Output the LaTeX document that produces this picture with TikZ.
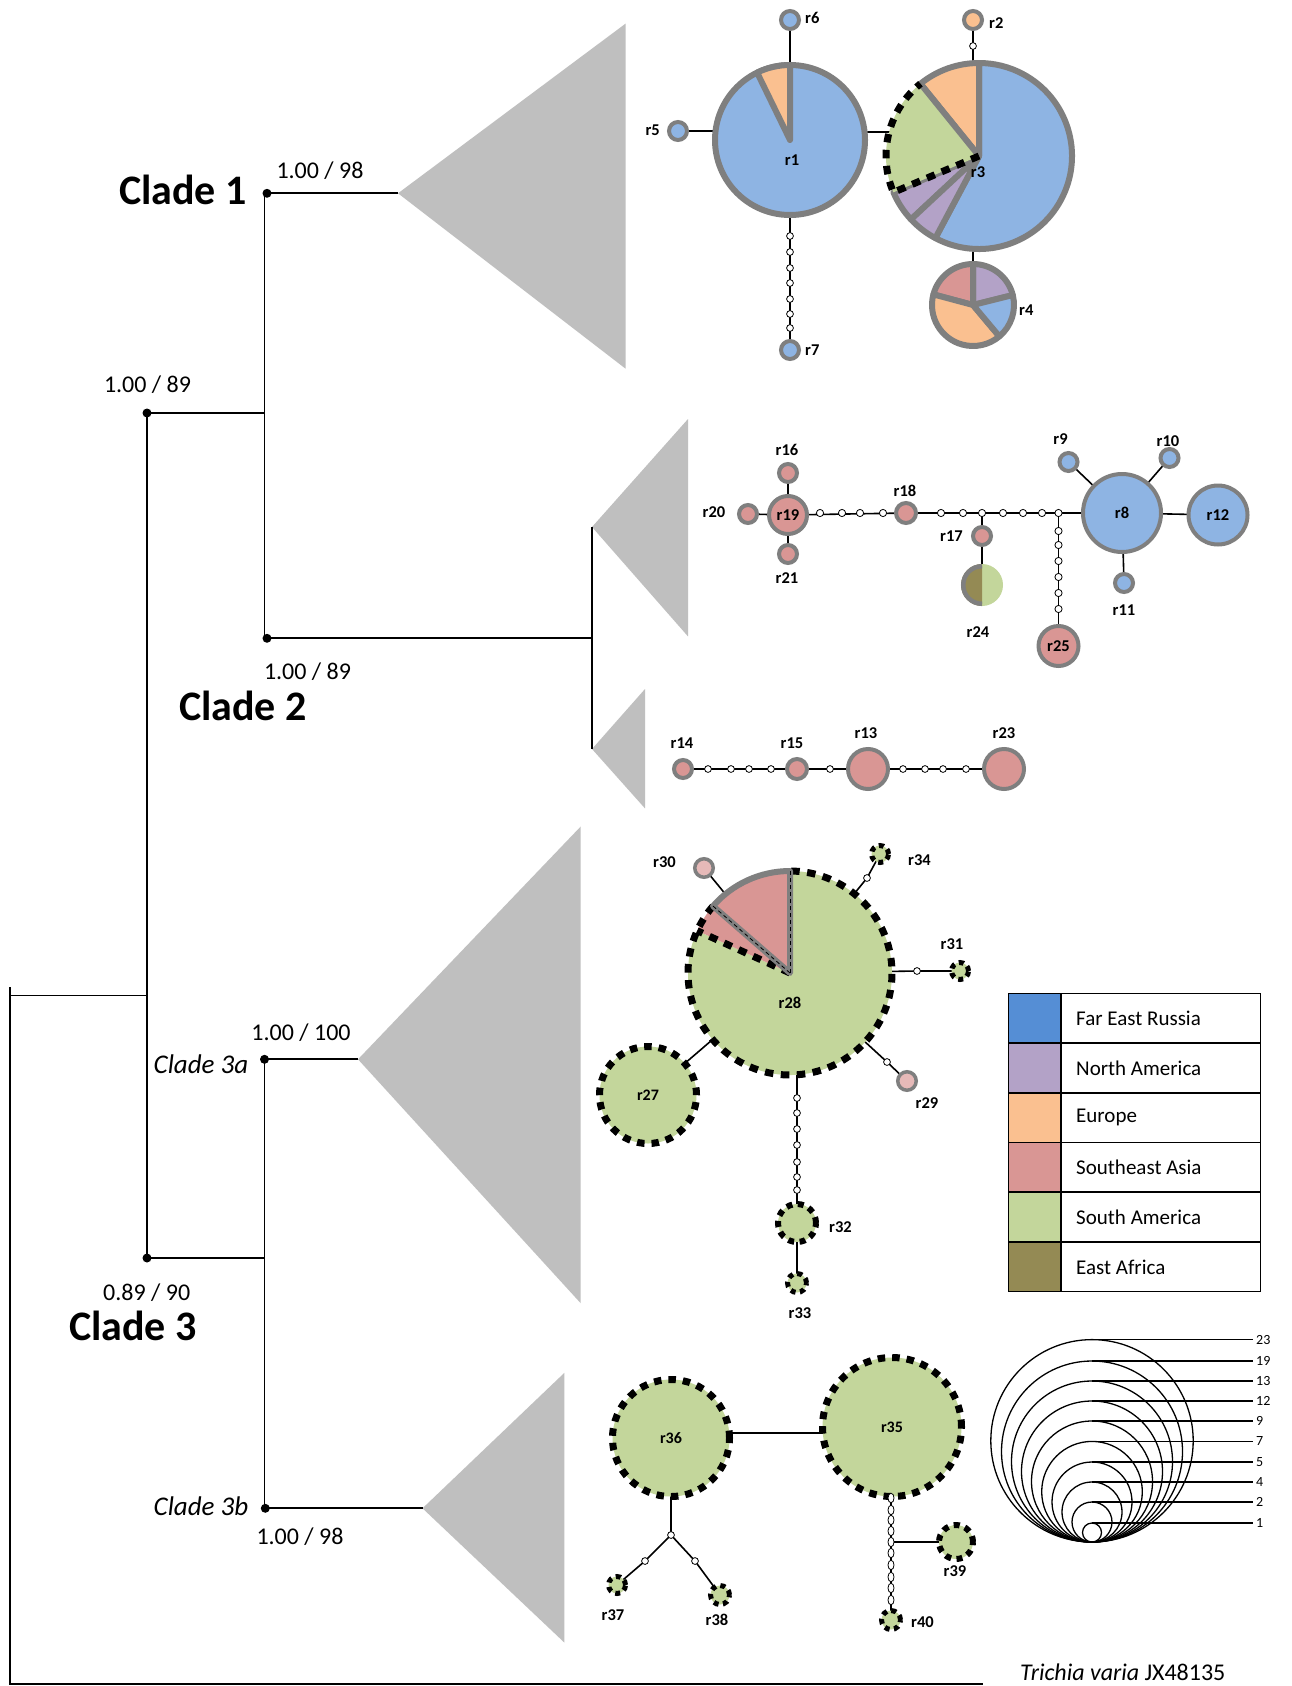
\documentclass[tikz,border=0pt]{standalone}
\usepackage{fontspec}
\setmainfont{Carlito}
\usetikzlibrary{shapes.geometric}
\pgfdeclarelayer{bgw}
\pgfdeclarelayer{back}
\pgfsetlayers{bgw,back,main}
\definecolor{cBlue}{HTML}{8EB4E3}
\definecolor{cLBlue}{HTML}{558ED5}
\definecolor{cPurple}{HTML}{B3A2C7}
\definecolor{cOrange}{HTML}{FAC090}
\definecolor{cPink}{HTML}{D99694}
\definecolor{cPinkL}{HTML}{E6B9B8}
\definecolor{cGreen}{HTML}{C3D69B}
\definecolor{cOlive}{HTML}{948A54}
\definecolor{cGray}{HTML}{7F7F7F}
\definecolor{cTri}{HTML}{BFBFBF}
\newcommand\pieslice[6]{\filldraw[fill=#5,#6] (#1) -- ++(#3:#2) arc[start angle=#3,end angle=#4,radius=#2] -- cycle;}
\begin{document}
\begin{tikzpicture}[x=1pt,y=1pt,
  treel/.style={line width=1.8pt, black},
  trif/.style={fill=cTri},
  tdot/.style={circle, fill=black, inner sep=0pt, minimum size=9pt},
  supp/.style={font=\fontsize{24}{28}\selectfont, inner sep=0pt},
  cladeB/.style={font=\fontsize{42}{50}\selectfont\bfseries, anchor=base, inner sep=0pt},
  cladeI/.style={font=\fontsize{27}{32}\selectfont\itshape, anchor=base, inner sep=0pt},
  hap/.style={circle, inner sep=0pt, outer sep=0pt, draw=cGray, line width=4pt, font=\fontsize{16.5}{18}\selectfont\bfseries},
  hapn/.style={circle, inner sep=0pt, outer sep=0pt, draw=none},
  sam/.style={circle, inner sep=0pt, outer sep=0pt, fill=cGreen, draw=black, line width=7pt, dash pattern=on 7.5pt off 7pt, font=\fontsize{16}{18}\selectfont\bfseries},
  sams/.style={sam, line width=5pt, dash pattern=on 5pt off 4.5pt},
  mut/.style={circle, draw=black, fill=white, line width=0.8pt, inner sep=0pt, minimum size=6.8pt},
  mutv/.style={mut, ellipse, minimum width=6pt, minimum height=9.5pt},
  link/.style={line width=1.6pt, black},
  lab/.style={font=\fontsize{16.5}{18}\selectfont\bfseries, inner sep=0pt},
  gs/.style={draw=cGray, line width=6pt, line join=round},
  bd/.style={draw=black, line width=7pt, dash pattern=on 8.5pt off 7.5pt},
  legt/.style={font=\fontsize{21}{24}\selectfont, anchor=west, inner sep=0pt},
  sizet/.style={font=\fontsize{14}{16}\selectfont, anchor=west, inner sep=0pt}]
\useasboundingbox (0,0) rectangle (1291,-1686);
\begin{pgfonlayer}{bgw}
\fill[white] (0,0) rectangle (1291,-1686);
\end{pgfonlayer}

% ---------------- tree ----------------
\coordinate (rtT) at (9.7,-987);
\coordinate (rtB) at (9.7,-1684);
\coordinate (tEnd) at (983,-1684);
\coordinate (r0) at (9.7,-995.5);
\coordinate (n0) at (147,-995.5);
\node[tdot] (n1) at (147,-413) {};
\node[tdot] (n2) at (147,-1258) {};
\coordinate (v1T) at (264.5,-193.3);
\coordinate (v1B) at (264.5,-638.3);
\node[tdot] (c1) at (267,-193.3) {};
\node[tdot] (c2) at (267,-638.3) {};
\coordinate (t1) at (398,-193.3);
\coordinate (t2) at (592,-638.3);
\coordinate (v2T) at (592,-527);
\coordinate (v2B) at (592,-749);
\coordinate (v3T) at (264.5,-1059.3);
\coordinate (v3B) at (264.5,-1508.3);
\node[tdot] (c3a) at (264.5,-1059.3) {};
\node[tdot] (c3b) at (265.3,-1508.3) {};
\coordinate (t3a) at (358,-1059.3);
\coordinate (t3b) at (422.5,-1508.3);

\fill[trif] (t1) -- (625.6,-23.6) -- (625.6,-368.7) -- cycle;
\fill[trif] (v2T) -- (688,-419) -- (688,-636.4) -- cycle;
\fill[trif] (v2B) -- (645,-689) -- (645,-808.4) -- cycle;
\fill[trif] (t3a) -- (580.5,-826.7) -- (580.5,-1303) -- cycle;
\fill[trif] (t3b) -- (564.4,-1372.8) -- (564.4,-1642.6) -- cycle;

\draw[treel] (rtT) -- (rtB) -- (tEnd);
\draw[treel] (r0) -- (n0);
\draw[treel] (n1.center) -- (n2.center);
\draw[treel] (n1.center) -- (n1 -| v1T);
\draw[treel] (v1T) -- (v1B);
\draw[treel] (c1.center) -- (t1);
\draw[treel] (c2.center) -- (t2);
\draw[treel] (v2T) -- (v2B);
\draw[treel] (n2.center) -- (n2 -| v3T);
\draw[treel] (v3T) -- (v3B);
\draw[treel] (c3a.center) -- (t3a);
\draw[treel] (c3b.center) -- (t3b);

\node[supp] (s1) at (320,-170.7) {1.00 / 98};
\node[supp] (s2) at (147.5,-385) {1.00 / 89};
\node[supp] (s3) at (307.5,-671.7) {1.00 / 89};
\node[supp] (s4) at (301,-1032.7) {1.00 / 100};
\node[supp] (s5) at (146.7,-1292.7) {0.89 / 90};
\node[supp] (s6) at (300,-1536.7) {1.00 / 98};
\node[cladeB] (k1) at (183,-204) {Clade 1};
\node[cladeB] (k2) at (243,-720.7) {Clade 2};
\node[cladeB] (k3) at (133,-1340) {Clade 3};
\node[cladeI] (k3a) at (201,-1073.3) {Clade 3a};
\node[cladeI] (k3b) at (201,-1515.7) {Clade 3b};
\node[font=\fontsize{24}{28}\selectfont, anchor=base west, inner sep=0pt] (tv) at (1020,-1680) {\textit{Trichia varia} JX48135};

% ---------------- network 1 ----------------
\node[hap, fill=cBlue, line width=6pt, minimum size=150pt] (r1) at (790,-140) {};
\node[hapn, minimum size=192pt] (r3) at (979,-156) {};
\node[hapn, minimum size=88pt] (r4) at (973,-305) {};
\node[hap, fill=cBlue, minimum size=18pt] (r6) at (790,-20) {};
\node[hap, fill=cBlue, minimum size=18pt] (r5) at (678,-131) {};
\node[hap, fill=cBlue, minimum size=18pt] (r7) at (790,-350) {};
\node[hap, fill=cOrange, minimum size=18pt] (r2) at (973,-20) {};
\foreach \y [count=\i] in {236,252,268,283,299,314,328} \node[mut] (a\i) at (790,-\y) {};
\node[mut] (b1) at (973,-46) {};
\coordinate (kk1) at (0,-131.7);
\begin{pgfonlayer}{back}
\draw[link] (r6.center) -- (r1.center) -- (r7.center);
\draw[link] (r5.center) -- (r5 -| r1.center);
\draw[link] (kk1 -| r1.center) -- (kk1 -| r3.center);
\draw[link] (r2.center) -- (r2 |- r3.center);
\draw[link] (r4.center) -- (r4 |- r3.center);
\end{pgfonlayer}
\pieslice{r1.center}{75}{90}{116}{cOrange}{gs}
\pieslice{r3.center}{93}{242}{450}{cBlue}{gs}
\pieslice{r3.center}{93}{90}{129}{cOrange}{gs}
\pieslice{r3.center}{93}{203}{223}{cPurple}{gs}
\pieslice{r3.center}{93}{223}{242}{cPurple}{gs}
\fill[cGreen] (r3.center) -- ++(129:93) arc[start angle=129,end angle=203,radius=93] -- cycle;
\draw[gs] (r3.center) -- ++(129:93);
\draw[bd] (r3.center) -- ++(203:93) arc[start angle=203,end angle=129,radius=93];
\pieslice{r4.center}{41}{14}{90}{cPurple}{gs}
\pieslice{r4.center}{41}{90}{165}{cPink}{gs}
\pieslice{r4.center}{41}{165}{310}{cOrange}{gs}
\pieslice{r4.center}{41}{310}{374}{cBlue}{gs}
\node[lab] (l1) at (792,-160) {r1};
\node[lab] (l3) at (978,-172) {r3};
\node[lab, anchor=west] (l6) at (805,-18) {r6};
\node[lab, anchor=east] (l5) at (660,-130) {r5};
\node[lab, anchor=west] (l7) at (805,-350) {r7};
\node[lab, anchor=west] (l2) at (989,-23) {r2};
\node[lab, anchor=west] (l4) at (1019,-310) {r4};

% ---------------- network 2 ----------------
\node[hap, fill=cPink, minimum size=38pt] (r19) at (788,-515) {r19};
\node[hap, fill=cPink, minimum size=18pt] (r16) at (788,-473) {};
\node[hap, fill=cPink, minimum size=18pt] (r21) at (788,-554) {};
\node[hap, fill=cPink, minimum size=18pt] (r20) at (748,-514) {};
\node[hap, fill=cPink, minimum size=20pt] (r18) at (906,-513) {};
\node[hap, fill=cPink, minimum size=18pt] (r17) at (982,-536) {};
\node[hapn, minimum size=42pt] (r24) at (982,-585) {};
\node[hap, fill=cPink, minimum size=40pt] (r25) at (1058.5,-646) {r25};
\node[hap, fill=cBlue, minimum size=78pt] (r8) at (1122,-513) {r8};
\node[hap, fill=cBlue, minimum size=59pt] (r12) at (1218,-515) {r12};
\node[hap, fill=cBlue, minimum size=18pt] (r9) at (1068.5,-462) {};
\node[hap, fill=cBlue, minimum size=18pt] (r10) at (1169.5,-458) {};
\node[hap, fill=cBlue, minimum size=18pt] (r11) at (1124,-583) {};
\foreach \x [count=\i] in {820,842,860,883} \node[mut, minimum size=7.2pt] (c\i) at (\x,-513) {};
\foreach \x [count=\i] in {941,963,982,1003,1023,1042,1058.5} \node[mut, minimum size=7.2pt] (d\i) at (\x,-513) {};
\foreach \y [count=\i] in {531,545,561,577,593,609} \node[mut, minimum size=7.2pt] (e\i) at (1058.5,-\y) {};
\begin{pgfonlayer}{back}
\draw[link] (r16.center) -- (r21.center);
\draw[link] (r20.center) -- (r19.center);
\draw[link] (r19.center) -- (r18.center) -- (r8.center) -- (r12.center);
\draw[link] (d3.center) -- (r24.center);
\draw[link] (d7.center) -- (r25.center);
\draw[link] (r9.center) -- (r8.center) -- (r10.center);
\draw[link] (r8.center) -- (r11.center);
\end{pgfonlayer}
\fill[cGreen] (r24.center) -- ++(-90:21) arc[start angle=-90,end angle=90,radius=21] -- cycle;
\fill[cOlive] (r24.center) -- ++(90:21) arc[start angle=90,end angle=270,radius=21] -- cycle;
\draw[draw=cGray, line width=4.5pt] (r24.center) ++(90:18.8) arc[start angle=90,end angle=270,radius=18.8];
\node[lab] (l16) at (787,-450) {r16};
\node[lab] (l21) at (787,-578) {r21};
\node[lab] (l20) at (714,-512) {r20};
\node[lab] (l18) at (905,-491) {r18};
\node[lab, anchor=east] (l17) at (963,-536) {r17};
\node[lab] (l24) at (978,-632) {r24};
\node[lab] (l9) at (1060.5,-439) {r9};
\node[lab] (l10) at (1168,-441) {r10};
\node[lab] (l11) at (1124,-610) {r11};

% ---------------- network 2b ----------------
\node[hap, fill=cPink, minimum size=18pt] (r14) at (683,-769) {};
\node[hap, fill=cPink, minimum size=20pt] (r15) at (797,-769) {};
\node[hap, fill=cPink, minimum size=40pt] (r13) at (868,-769) {};
\node[hap, fill=cPink, minimum size=40pt] (r23) at (1004,-769) {};
\foreach \x [count=\i] in {708,731,749,771,830,903,925,943,966} \node[mut] (g\i) at (\x,-769) {};
\begin{pgfonlayer}{back}
\draw[link] (r14.center) -- (r23.center);
\end{pgfonlayer}
\node[lab] (l14) at (682,-743) {r14};
\node[lab] (l15) at (792,-743) {r15};
\node[lab] (l13) at (866,-733) {r13};
\node[lab] (l23) at (1004,-733) {r23};

% ---------------- network 3a ----------------
\node[hapn, minimum size=210pt] (r28) at (790,-973) {};
\node[hap, fill=cPinkL, line width=3.5pt, minimum size=18.5pt] (r30) at (704,-868) {};
\node[hap, fill=cPinkL, line width=3.5pt, minimum size=18.5pt] (r29) at (907,-1081) {};
\node[sams, minimum size=17pt] (r34) at (880,-854) {};
\node[sams, minimum size=17pt] (r31) at (960,-971) {};
\node[sam, minimum size=97pt] (r27) at (648,-1095) {r27};
\node[sam, line width=6pt, dash pattern=on 6pt off 5.5pt, minimum size=38pt] (r32) at (797,-1223) {};
\node[sams, minimum size=19pt] (r33) at (797,-1283) {};
\node[mut] (f1) at (867,-878) {};
\node[mut] (f2) at (917,-971) {};
\node[mut] (f3) at (887,-1062) {};
\foreach \y [count=\i] in {1098,1113,1129,1145,1162,1177,1190} \node[mut] (i\i) at (797,-\y) {};
\begin{pgfonlayer}{back}
\draw[link] (r30.center) -- (r28.center);
\draw[link] (r28.center) -- (f1.center) -- (r34.center);
\draw[link] (r28.center) -- (f2.center) -- (r31.center);
\draw[link] (r28.center) -- (f3.center) -- (r29.center);
\draw[link] (r28.center) -- (r27.center);
\draw[link] (i1 |- r28.center) -- (r33.center);
\end{pgfonlayer}
\fill[cGreen] (r28.center) -- ++(155.5:102) arc[start angle=155.5,end angle=450,radius=102] -- cycle;
\fill[cPink] (r28.center) -- ++(139:102) arc[start angle=139,end angle=155.5,radius=102] -- cycle;
\draw[bd] (r28.center) -- ++(155.5:102);
\draw[bd] (r28.center) ++(139:102) arc[start angle=139,end angle=450,radius=102];
\pieslice{r28.center}{102}{90}{139}{cPink}{gs}
\draw[black, line width=0.8pt, dash pattern=on 4pt off 3pt] (r28.center) -- ++(90:102);
\draw[black, line width=0.8pt, dash pattern=on 4pt off 3pt] (r28.center) -- ++(139:102);
\node[lab] (l28) at (790,-1003) {r28};
\node[lab, anchor=east] (l30) at (676,-862) {r30};
\node[lab, anchor=west] (l34) at (908,-860) {r34};
\node[lab] (l31) at (952,-944) {r31};
\node[lab] (l29) at (927,-1103) {r29};
\node[lab, anchor=west] (l32) at (829,-1227) {r32};
\node[lab] (l33) at (800,-1313) {r33};

% ---------------- network 3b ----------------
\node[sam, minimum size=117pt] (r36) at (671,-1438) {r36};
\node[sam, minimum size=139pt] (r35) at (892,-1427) {r35};
\node[sams, minimum size=17pt] (r37) at (617,-1585) {};
\node[sams, minimum size=19pt] (r38) at (720,-1595) {};
\node[sam, line width=6pt, dash pattern=on 6pt off 5.5pt, minimum size=34pt] (r39) at (956,-1542) {};
\node[sams, minimum size=19pt] (r40) at (891,-1620) {};
\node[mut] (j3) at (671,-1535) {};
\node[mut] (p1) at (645,-1561) {};
\node[mut] (p2) at (695,-1561) {};
\foreach \y [count=\i] in {1498,1510,1520,1531,1542,1553,1565,1577,1588,1600} \node[mutv] (q\i) at (891,-\y) {};
\coordinate (kk2) at (0,-1433);
\begin{pgfonlayer}{back}
\draw[link] (kk2 -| r36.center) -- (kk2 -| r35.center);
\draw[link] (r36.center) -- (j3.center) -- (p1.center) -- (r37.center);
\draw[link] (j3.center) -- (p2.center) -- (r38.center);
\draw[link] (q1 |- r35.center) -- (r40.center);
\draw[link] (q5.center) -- (r39.center);
\end{pgfonlayer}
\node[lab] (l37) at (613,-1615) {r37};
\node[lab] (l38) at (717,-1620) {r38};
\node[lab] (l39) at (955,-1571) {r39};
\node[lab, anchor=west] (l40) at (911,-1622) {r40};

% ---------------- legend ----------------
\foreach \c/\t [count=\i] in {cLBlue/Far East Russia, cPurple/North America, cOrange/Europe, cPink/Southeast Asia, cGreen/South America, cOlive/East Africa} {
  \pgfmathsetmacro\yt{-993.3-(\i-1)*49.73}
  \filldraw[fill=\c, draw=black, line width=1.5pt] (1008.3,\yt) rectangle ++(52.7,-49.73);
  \draw[black, line width=1.5pt] (1061,\yt) rectangle ++(199.7,-49.73);
  \node[legt] (lg\i) at (1076,\yt-24.9) {\t};
}

% ---------------- size legend ----------------
\foreach \r/\n [count=\i] in {101.2/23, 90.5/19, 80.5/13, 70.5/12, 60.5/9, 50.3/7, 40/5, 30/4, 20/2, 9.5/1} {
  \draw[black, line width=1.3pt] (1092,{-1542+\r}) circle (\r);
  \draw[black, line width=1.3pt] (1092,{-1542+2*\r}) -- (1253,{-1542+2*\r});
  \node[sizet] (sz\i) at (1256,{-1542+2*\r}) {\n};
}
\end{tikzpicture}
\end{document}
